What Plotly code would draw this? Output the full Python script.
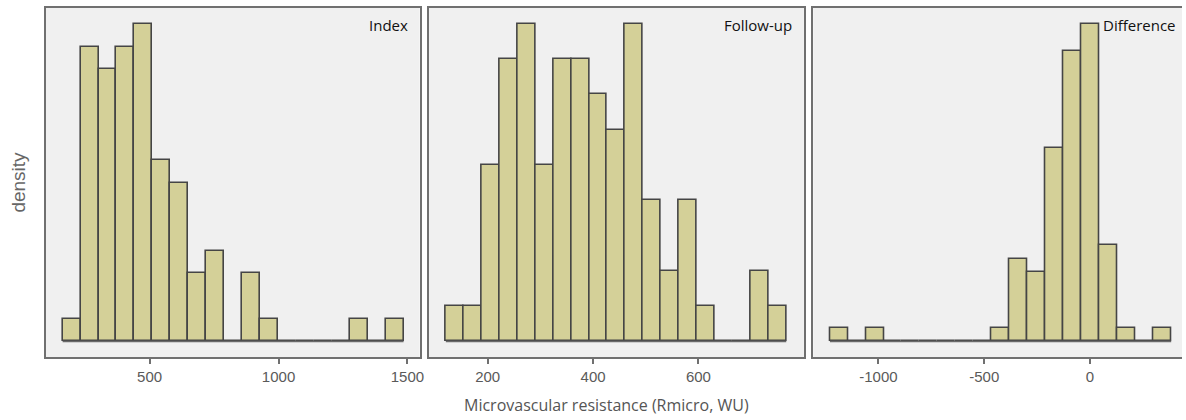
import plotly.graph_objects as go

# ---- data (counts per bin) ----
index_counts = [1, 13, 12, 13, 14, 8, 7, 3, 4, 0, 3, 1, 0, 0, 0, 0, 1, 0, 1]
index_start, index_width = 162.5, 69.6

followup_counts = [1, 1, 5, 8, 9, 5, 8, 8, 7, 6, 9, 4, 2, 4, 1, 0, 0, 2, 1]
followup_start, followup_width = 120.6, 34.0

diff_counts = [1, 0, 1, 0, 0, 0, 0, 0, 0, 1, 6, 5, 14, 21, 23, 7, 1, 0, 1]
diff_start, diff_width = -1229.4, 84.9

panel_labels = ["Index", "Follow-up", "Difference"]
tick_vals = [[500, 1000, 1500], [200, 400, 600], [-1000, -500, 0]]
tick_text = [["500", "1000", "1500"], ["200", "400", "600"], ["-1000", "-500", "0"]]
x_ranges = [[98, 1547.5], [88, 800], [-1308, 434.8]]

x_title = "Microvascular resistance (Rmicro, WU)"
y_title = "density"

W, H = 1186, 420
ML, MR, MT, MB = 46, 0, 8, 63
PW = W - ML - MR
panel_px = [(46, 421), (430, 806.5), (816, 1186)]
label_right_px = [411, 796.5, 1182]
domains = [[(a - ML) / PW, (b - ML) / PW] for a, b in panel_px]

BAR_FILL = "#D4D098"
BAR_LINE = "#454545"
FRAME = "#707070"
BG = "#F0F0F0"

fig = go.Figure()
panels = [
    (index_counts, index_start, index_width),
    (followup_counts, followup_start, followup_width),
    (diff_counts, diff_start, diff_width),
]
for i, (counts, start, width) in enumerate(panels):
    xa = "x" if i == 0 else f"x{i+1}"
    ya = "y" if i == 0 else f"y{i+1}"
    centers = [start + width * (k + 0.5) for k in range(len(counts))]
    edges = [start, start + width * len(counts)]
    fig.add_trace(go.Scatter(x=edges, y=[0, 0], mode="lines",
                             line=dict(color="#6a6a6a", width=1.5),
                             xaxis=xa, yaxis=ya, showlegend=False, hoverinfo="skip"))
    fig.add_trace(go.Bar(x=centers, y=counts, width=width,
                         marker=dict(color=BAR_FILL, line=dict(color=BAR_LINE, width=1.6)),
                         xaxis=xa, yaxis=ya, showlegend=False))
    m = max(counts)
    xkey = "xaxis" if i == 0 else f"xaxis{i+1}"
    ykey = "yaxis" if i == 0 else f"yaxis{i+1}"
    fig.update_layout(**{
        xkey: dict(domain=domains[i], range=x_ranges[i], anchor=ya,
                   showgrid=False, zeroline=False,
                   showline=True, mirror=True, linecolor=FRAME, linewidth=1.5,
                   ticks="outside", ticklen=5, tickwidth=1.5, tickcolor=FRAME,
                   tickvals=tick_vals[i], ticktext=tick_text[i],
                   tickfont=dict(family="Liberation Sans, Arial", size=15, color="#5a5a5a")),
        ykey: dict(domain=[0, 1], range=[-0.049 * m, 1.05 * m], anchor=xa,
                   showgrid=False, zeroline=False, showticklabels=False, ticks="",
                   showline=True, mirror=(i < 2), linecolor=FRAME, linewidth=1.5),
    })
    pw = panel_px[i][1] - panel_px[i][0]
    fig.add_annotation(text=panel_labels[i], xref=f"{xa} domain", yref=f"{ya} domain",
                       x=(label_right_px[i] - panel_px[i][0]) / pw,
                       y=(357 - 25) / 349, xanchor="right", yanchor="middle",
                       showarrow=False,
                       font=dict(family="Open Sans, Noto Sans", size=15, color="#111111"))

fig.add_annotation(text=x_title, xref="paper", yref="paper",
                   x=(608 - ML) / PW, y=-(405 - 357) / 349, xanchor="center", yanchor="middle",
                   showarrow=False,
                   font=dict(family="Open Sans, Noto Sans", size=16, color="#555555"))
fig.add_annotation(text=y_title, xref="paper", yref="paper",
                   x=-(46 - 18) / PW, y=0.5, xanchor="center", yanchor="middle",
                   textangle=-90, showarrow=False,
                   font=dict(family="Liberation Sans, Arial", size=19, color="#666666"))

fig.update_layout(width=W, height=H, margin=dict(l=ML, r=MR, t=MT, b=MB),
                  plot_bgcolor=BG, paper_bgcolor="white", bargap=0, showlegend=False)

fig.write_html("out.html")
